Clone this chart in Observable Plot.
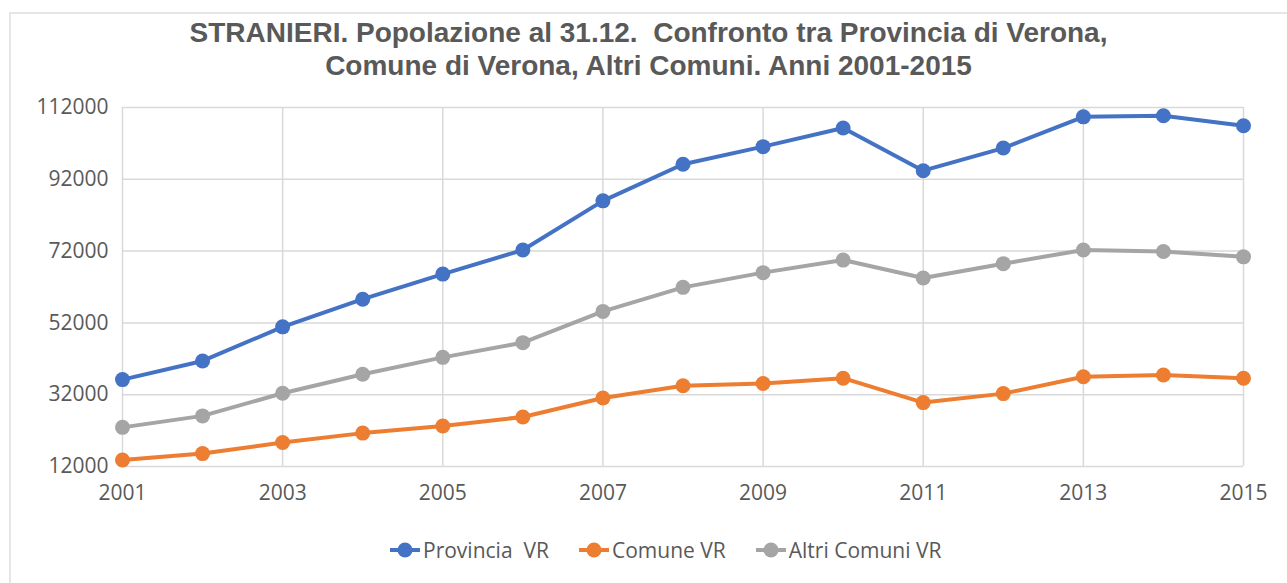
<!DOCTYPE html>
<html>
<head>
<meta charset="utf-8">
<script src="https://cdn.jsdelivr.net/npm/d3@7"></script>
<script src="https://cdn.jsdelivr.net/npm/@observablehq/plot@0.6"></script>
<style>
  body { margin: 0; background: #fff; }
  #wrap { position: relative; width: 1287px; height: 583px; overflow: hidden; background: #fff; font-family: "Open Sans", sans-serif; }
  #frame { position: absolute; left: 9px; top: 12px; width: 1400px; height: 700px; border: 2px solid #e6e6e6; box-sizing: border-box; }
  #title { position: absolute; left: 10px; width: 1277px; top: 16px; text-align: center; font: bold 28px/33px "Liberation Sans", Arial, sans-serif; color: #595959; }
  #chart { position: absolute; left: 0; top: 90px; }
  #legend { position: absolute; left: 390px; top: 535px; height: 30px; display: flex; align-items: center; gap: 30px; font-size: 21px; color: #595959; white-space: pre; }
  #legend .item { display: flex; align-items: center; gap: 3px; }
</style>
</head>
<body>
<div id="wrap">
  <div id="frame"></div>
  <div id="title">STRANIERI. Popolazione al 31.12.&nbsp; Confronto tra Provincia di Verona,<br>Comune di Verona, Altri Comuni. Anni 2001-2015</div>
  <div id="chart"></div>
  <div id="legend"></div>
</div>
<script>
const years = [2001, 2002, 2003, 2004, 2005, 2006, 2007, 2008, 2009, 2010, 2011, 2012, 2013, 2014, 2015];
const provincia = [36200, 41400, 50900, 58600, 65600, 72300, 86000, 96200, 101100, 106300, 94400, 100700, 109400, 109700, 106900];
const comune = [13800, 15600, 18700, 21300, 23300, 25800, 31100, 34500, 35100, 36600, 29800, 32300, 37000, 37500, 36600];
const altri = [22900, 26100, 32400, 37700, 42400, 46500, 55200, 61900, 66000, 69500, 64500, 68500, 72300, 71900, 70400];
const seriesNames = ["Provincia  VR", "Comune VR", "Altri Comuni VR"];
const seriesColors = ["#4472C4", "#ED7D31", "#A5A5A5"];
const yTicks = [12000, 32000, 52000, 72000, 92000, 112000];
const xTicks = [2001, 2003, 2005, 2007, 2009, 2011, 2013, 2015];

const seriesValues = [provincia, comune, altri];
const data = [];
seriesNames.forEach((name, i) => {
  years.forEach((yr, j) => data.push({ series: name, year: yr, value: seriesValues[i][j] }));
});

const chart = Plot.plot({
  width: 1287,
  height: 420,
  marginTop: 17,
  marginBottom: 44,
  marginLeft: 122,
  marginRight: 44,
  x: { domain: [2001, 2015] },
  y: { domain: [12000, 112000] },
  color: { domain: seriesNames, range: seriesColors },
  style: { fontFamily: "Open Sans, sans-serif", fontSize: "21px", color: "#595959", background: "transparent" },
  marks: [
    Plot.gridY(yTicks, { stroke: "#d9d9d9", strokeOpacity: 1, strokeWidth: 1.5 }),
    Plot.gridX(xTicks, { stroke: "#d9d9d9", strokeOpacity: 1, strokeWidth: 1.5 }),
    Plot.axisX(xTicks, { tickSize: 0, tickPadding: 19, tickFormat: d => String(d), label: null, fill: "#595959" }),
    Plot.axisY(yTicks, { tickSize: 0, tickPadding: 14, tickFormat: d => String(d), label: null, fill: "#595959" }),
    Plot.line(data, { x: "year", y: "value", z: "series", stroke: "series", strokeWidth: 4, strokeLinejoin: "round" }),
    Plot.dot(data, { x: "year", y: "value", fill: "series", r: 7.5 })
  ]
});
document.getElementById("chart").appendChild(chart);

const legend = document.getElementById("legend");
seriesNames.forEach((name, i) => {
  const item = document.createElement("div");
  item.className = "item";
  const c = seriesColors[i];
  item.innerHTML = `<svg width="30" height="20"><line x1="0" y1="10" x2="30" y2="10" stroke="${c}" stroke-width="4"/><circle cx="15" cy="10" r="7.5" fill="${c}"/></svg><span></span>`;
  item.querySelector("span").textContent = name;
  legend.appendChild(item);
});
</script>
</body>
</html>
